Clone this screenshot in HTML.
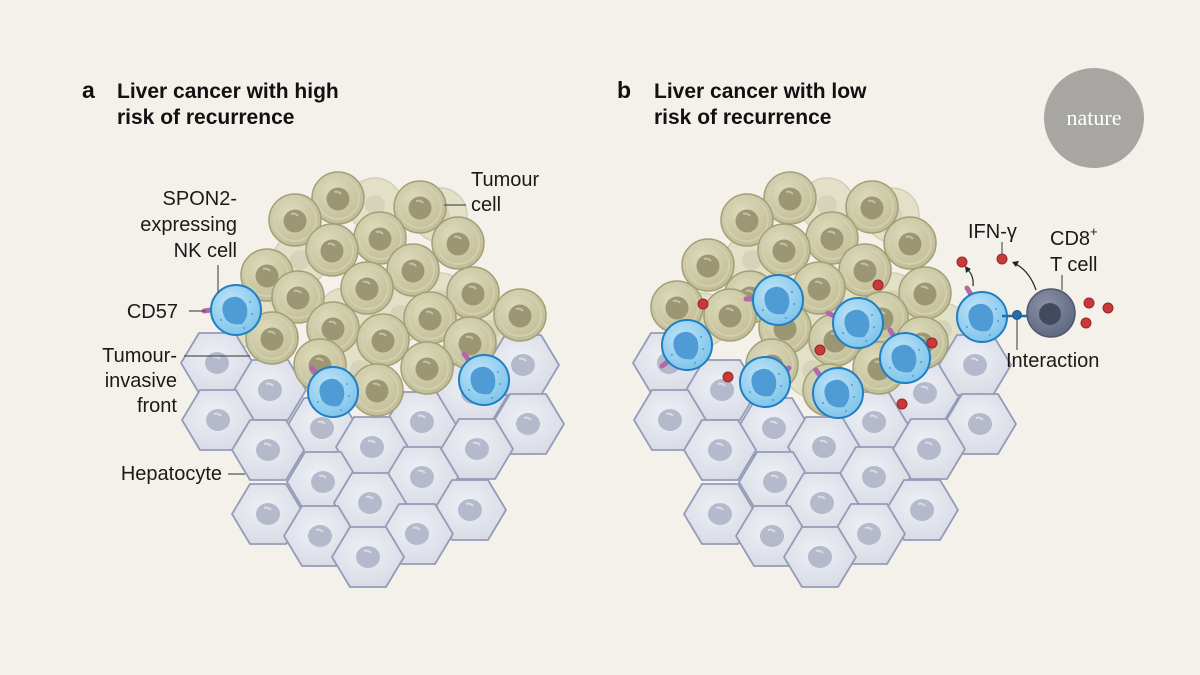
<!DOCTYPE html>
<html><head><meta charset="utf-8"><style>
html,body{margin:0;padding:0;background:#f4f1ea;}
svg{display:block;font-family:"Liberation Sans",sans-serif;}
</style></head><body>
<svg width="1200" height="675" viewBox="0 0 1200 675" xmlns="http://www.w3.org/2000/svg">
<defs>
<radialGradient id="tg" cx="0.4" cy="0.35" r="0.7"><stop offset="0" stop-color="#dedbbd"/><stop offset="1" stop-color="#bfbb94"/></radialGradient>
<radialGradient id="ng" cx="0.4" cy="0.35" r="0.7"><stop offset="0" stop-color="#bfe4f7"/><stop offset="1" stop-color="#7cc3ea"/></radialGradient>
<radialGradient id="cg" cx="0.4" cy="0.35" r="0.7"><stop offset="0" stop-color="#8c93a8"/><stop offset="1" stop-color="#5d6580"/></radialGradient>
<radialGradient id="hg" cx="0.45" cy="0.4" r="0.7"><stop offset="0" stop-color="#eef0f5"/><stop offset="1" stop-color="#d6d9e4"/></radialGradient>
<g id="tc"><circle r="26" fill="url(#tg)" stroke="#a29f78" stroke-width="1.5"/><circle r="21" fill="none" stroke="#d2cfb0" stroke-width="2"/><circle cx="0" cy="1" r="11.5" fill="#9b9774"/><path d="M-4 -6 a6 6 0 0 1 7 2" stroke="#c5c1a2" stroke-width="2" fill="none"/></g>
<g id="pt"><circle r="27" fill="#e3e0c8" stroke="#d2cfb4" stroke-width="1.5"/><circle r="10" fill="#d6d3ba"/></g>
<g id="hc"><path d="M-18 -30 L18 -30 L36 0 L18 30 L-18 30 L-36 0 Z" fill="url(#hg)" stroke="#959cb8" stroke-width="1.8" stroke-linejoin="round"/><ellipse cx="0" cy="0" rx="12" ry="11" fill="#b5b9cc"/><path d="M-4 -6 a6 6 0 0 1 7 2" stroke="#dadde8" stroke-width="2" fill="none"/></g>
<g id="nk"><circle r="25" fill="url(#ng)" stroke="#1f7fc2" stroke-width="2"/><path d="M-10 -10 Q2 -18 10 -6 Q14 6 6 14 Q-8 16 -12 6 Q-16 -4 -10 -10Z" fill="#4e9bd6"/><circle cx="14" cy="-8" r="1" fill="#4e9bd6"/><circle cx="16" cy="4" r="1" fill="#4e9bd6"/><circle cx="-15" cy="10" r="1" fill="#4e9bd6"/><circle cx="8" cy="18" r="1" fill="#4e9bd6"/></g>
<g id="rd"><circle r="5" fill="#c8393a" stroke="#9c2427" stroke-width="1"/></g>
<g id="tumA">
<use href="#pt" x="375" y="205"/><use href="#pt" x="440" y="215"/><use href="#pt" x="300" y="260"/><use href="#pt" x="440" y="300"/><use href="#pt" x="345" y="315"/><use href="#pt" x="500" y="355"/><use href="#pt" x="250" y="320"/><use href="#pt" x="400" y="315"/><use href="#pt" x="360" y="370"/><use href="#pt" x="490" y="330"/>
</g>
<g id="hep">
<use href="#hc" x="217" y="363"/><use href="#hc" x="270" y="390"/><use href="#hc" x="218" y="420"/><use href="#hc" x="322" y="428"/><use href="#hc" x="422" y="422"/><use href="#hc" x="473" y="393"/><use href="#hc" x="523" y="365"/><use href="#hc" x="528" y="424"/><use href="#hc" x="372" y="447"/><use href="#hc" x="268" y="450"/><use href="#hc" x="477" y="449"/><use href="#hc" x="323" y="482"/><use href="#hc" x="422" y="477"/><use href="#hc" x="370" y="503"/><use href="#hc" x="268" y="514"/><use href="#hc" x="470" y="510"/><use href="#hc" x="320" y="536"/><use href="#hc" x="417" y="534"/><use href="#hc" x="368" y="557"/>
</g>
</defs>

<!-- Panel a -->
<use href="#tumA"/>
<use href="#hep"/>
<g>
<use href="#tc" x="338" y="198"/><use href="#tc" x="420" y="207"/><use href="#tc" x="295" y="220"/><use href="#tc" x="380" y="238"/><use href="#tc" x="458" y="243"/><use href="#tc" x="332" y="250"/><use href="#tc" x="267" y="275"/><use href="#tc" x="413" y="270"/><use href="#tc" x="367" y="288"/><use href="#tc" x="473" y="293"/><use href="#tc" x="298" y="297"/><use href="#tc" x="520" y="315"/><use href="#tc" x="430" y="318"/><use href="#tc" x="333" y="328"/><use href="#tc" x="272" y="338"/><use href="#tc" x="383" y="340"/><use href="#tc" x="470" y="343"/><use href="#tc" x="320" y="365"/><use href="#tc" x="427" y="368"/><use href="#tc" x="377" y="390"/>
</g>
<g>
<line x1="204" y1="311" x2="218" y2="309" stroke="#b368a8" stroke-width="5" stroke-linecap="round"/>
<use href="#nk" x="236" y="310"/>
<line x1="312" y1="368" x2="320" y2="378" stroke="#b368a8" stroke-width="5" stroke-linecap="round"/>
<use href="#nk" x="333" y="392"/>
<line x1="464" y1="354" x2="472" y2="364" stroke="#b368a8" stroke-width="5" stroke-linecap="round"/>
<use href="#nk" x="484" y="380"/>
</g>

<!-- Panel b -->
<g transform="translate(452,0)">
<use href="#tumA"/>
<use href="#hep"/>
<use href="#tc" x="338" y="198"/><use href="#tc" x="420" y="207"/><use href="#tc" x="295" y="220"/><use href="#tc" x="380" y="238"/><use href="#tc" x="458" y="243"/><use href="#tc" x="332" y="250"/><use href="#tc" x="256" y="265"/><use href="#tc" x="413" y="270"/><use href="#tc" x="367" y="288"/><use href="#tc" x="473" y="293"/><use href="#tc" x="298" y="297"/><use href="#tc" x="225" y="307"/><use href="#tc" x="430" y="318"/><use href="#tc" x="333" y="328"/><use href="#tc" x="278" y="315"/><use href="#tc" x="383" y="340"/><use href="#tc" x="470" y="343"/><use href="#tc" x="320" y="365"/><use href="#tc" x="427" y="368"/><use href="#tc" x="377" y="390"/>
</g>
<g>
<line x1="662" y1="366" x2="670" y2="360" stroke="#b368a8" stroke-width="5" stroke-linecap="round"/>
<use href="#nk" x="687" y="345"/>
<line x1="746" y1="299" x2="758" y2="299" stroke="#b368a8" stroke-width="5" stroke-linecap="round"/>
<use href="#nk" x="778" y="300"/>
<line x1="828" y1="313" x2="838" y2="318" stroke="#b368a8" stroke-width="5" stroke-linecap="round"/>
<use href="#nk" x="858" y="323"/>
<line x1="890" y1="330" x2="896" y2="340" stroke="#b368a8" stroke-width="5" stroke-linecap="round"/>
<use href="#nk" x="905" y="358"/>
<line x1="778" y1="374" x2="789" y2="368" stroke="#b368a8" stroke-width="5" stroke-linecap="round"/>
<use href="#nk" x="765" y="382"/>
<line x1="816" y1="370" x2="823" y2="380" stroke="#b368a8" stroke-width="5" stroke-linecap="round"/>
<use href="#nk" x="838" y="393"/>
<line x1="967" y1="288" x2="973" y2="298" stroke="#b368a8" stroke-width="5" stroke-linecap="round"/>
<use href="#nk" x="982" y="317"/>
<line x1="1002" y1="316" x2="1040" y2="316" stroke="#1f6fae" stroke-width="2.5"/>
<circle cx="1017" cy="315" r="4.5" fill="#1f6fae" stroke="#2d4f7a"/>
<circle cx="1051" cy="313" r="24" fill="url(#cg)" stroke="#4f566d" stroke-width="1.5"/>
<circle cx="1050" cy="314" r="11" fill="#434a60"/>
<use href="#rd" x="703" y="304"/><use href="#rd" x="878" y="285"/><use href="#rd" x="820" y="350"/><use href="#rd" x="728" y="377"/><use href="#rd" x="932" y="343"/><use href="#rd" x="902" y="404"/><use href="#rd" x="962" y="262"/><use href="#rd" x="1002" y="259"/><use href="#rd" x="1089" y="303"/><use href="#rd" x="1108" y="308"/><use href="#rd" x="1086" y="323"/>
<path d="M973 286 Q974 276 968 270" stroke="#222" stroke-width="1.2" fill="none"/>
<path d="M965 266 L971 269 L966 273Z" fill="#222"/>
<path d="M1036 290 Q1030 272 1016 264" stroke="#222" stroke-width="1.2" fill="none"/>
<path d="M1012 262 L1019 261 L1016 267Z" fill="#222"/>
</g>

<!-- leader lines -->
<g stroke="#555" stroke-width="1.2">
<line x1="218" y1="265" x2="218" y2="293"/>
<line x1="189" y1="311" x2="206" y2="311"/>
<line x1="184" y1="356" x2="250" y2="356"/>
<line x1="228" y1="474" x2="245" y2="474"/>
<line x1="444" y1="205" x2="466" y2="205"/>
<line x1="1002" y1="242" x2="1002" y2="255"/>
<line x1="1062" y1="275" x2="1062" y2="290"/>
<line x1="1017" y1="320" x2="1017" y2="350"/>
</g>

<!-- text -->
<g font-size="20" fill="#1a1a1a">
<text x="237" y="205" text-anchor="end">SPON2-</text>
<text x="237" y="231" text-anchor="end">expressing</text>
<text x="237" y="257" text-anchor="end">NK cell</text>
<text x="178" y="318" text-anchor="end">CD57</text>
<text x="177" y="362" text-anchor="end">Tumour-</text>
<text x="177" y="387" text-anchor="end">invasive</text>
<text x="177" y="412" text-anchor="end">front</text>
<text x="222" y="480" text-anchor="end">Hepatocyte</text>
<text x="471" y="186">Tumour</text>
<text x="471" y="211">cell</text>
<text x="968" y="238">IFN-γ</text>
<text x="1050" y="245">CD8<tspan font-size="13" dy="-9">+</tspan></text>
<text x="1050" y="271">T cell</text>
<text x="1006" y="367">Interaction</text>
</g>
<g font-size="21" font-weight="bold" fill="#111">
<text x="82" y="98" font-size="23">a</text>
<text x="117" y="98">Liver cancer with high</text>
<text x="117" y="124">risk of recurrence</text>
<text x="617" y="98" font-size="23">b</text>
<text x="654" y="98">Liver cancer with low</text>
<text x="654" y="124">risk of recurrence</text>
</g>
<circle cx="1094" cy="118" r="50" fill="#a7a6a2"/>
<text x="1094" y="125" text-anchor="middle" font-family="Liberation Serif,serif" font-size="22" fill="#fff">nature</text>
</svg>
</body></html>
